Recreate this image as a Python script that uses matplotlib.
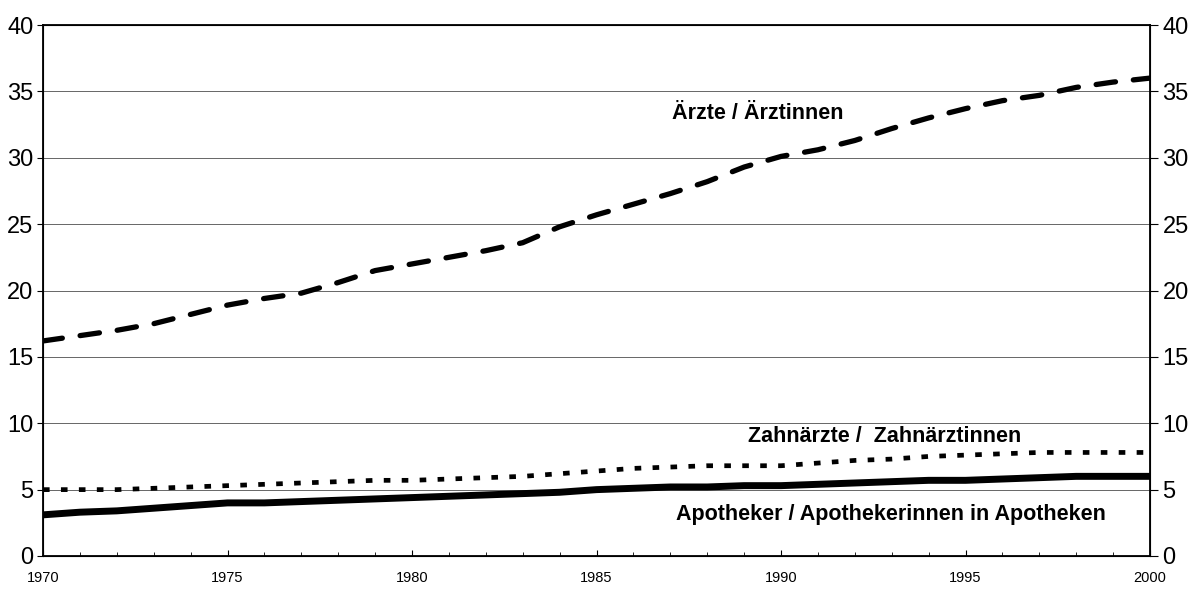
import matplotlib
matplotlib.use("Agg")
import matplotlib.pyplot as plt
from matplotlib.ticker import MultipleLocator

years = list(range(1970, 2001))
aerzte = [16.2, 16.6, 17.0, 17.5, 18.2, 18.9, 19.4, 19.8, 20.6, 21.5, 22.0,
          22.5, 23.0, 23.6, 24.8, 25.7, 26.5, 27.3, 28.2, 29.3, 30.1,
          30.6, 31.3, 32.2, 33.0, 33.7, 34.3, 34.7, 35.3, 35.7, 36.0]
zahnaerzte = [5.0, 5.0, 5.0, 5.1, 5.2, 5.3, 5.4, 5.5, 5.6, 5.7, 5.7,
              5.8, 5.9, 6.0, 6.2, 6.4, 6.6, 6.7, 6.8, 6.8, 6.8,
              7.0, 7.2, 7.3, 7.5, 7.6, 7.7, 7.8, 7.8, 7.8, 7.8]
apotheker = [3.1, 3.3, 3.4, 3.6, 3.8, 4.0, 4.0, 4.1, 4.2, 4.3, 4.4,
             4.5, 4.6, 4.7, 4.8, 5.0, 5.1, 5.2, 5.2, 5.3, 5.3,
             5.4, 5.5, 5.6, 5.7, 5.7, 5.8, 5.9, 6.0, 6.0, 6.0]
yticks = [0, 5, 10, 15, 20, 25, 30, 35, 40]
xticks = [1970, 1975, 1980, 1985, 1990, 1995, 2000]
label_aerzte = "Ärzte / Ärztinnen"
label_zahn = "Zahnärzte /  Zahnärztinnen"
label_apo = "Apotheker / Apothekerinnen in Apotheken"

plt.rcParams['font.family'] = ['Liberation Sans', 'DejaVu Sans']

fig = plt.figure(figsize=(11.90, 5.93), dpi=100)
ax = fig.add_axes([43/1190, 1 - 556/593, (1150-43)/1190, (556-25)/593])

for v in yticks[1:-1]:
    ax.axhline(v, color='0.4', lw=0.7, zorder=1)

ax.plot(years, aerzte, color='black', lw=3.8, linestyle=(0, (3.7, 3.4)),
        dash_capstyle='round', zorder=3)
ax.plot(years, zahnaerzte, color='black', lw=3.4, linestyle=(0, (1.4, 2.4)),
        dash_capstyle='butt', zorder=3)
ax.plot(years, apotheker, color='black', lw=5.0, solid_capstyle='butt', zorder=3)

ax.set_xlim(1970, 2000)
ax.set_ylim(0, 40)
ax.set_xticks(xticks)
ax.xaxis.set_minor_locator(MultipleLocator(1))
ax.set_yticks(yticks)
ax.tick_params(axis='x', which='major', direction='in', length=4, labelsize=10.5, pad=11)
ax.tick_params(axis='x', which='minor', direction='in', length=3)
ax.tick_params(axis='y', direction='out', length=4, labelsize=17, pad=3)
for sp in ax.spines.values():
    sp.set_linewidth(1.3)

ax2 = ax.twinx()
ax2.set_ylim(0, 40)
ax2.set_yticks(yticks)
ax2.tick_params(axis='y', direction='out', length=6, labelsize=17, pad=3)

ax.text(1987.05, 33.3, label_aerzte, fontsize=15.5, fontweight='bold', ha='left', va='center')
ax.text(1989.1, 9.0, label_zahn, fontsize=15.5, fontweight='bold', ha='left', va='center')
ax.text(1987.15, 3.15, label_apo, fontsize=15.5, fontweight='bold', ha='left', va='center')

fig.savefig("out.png", dpi=100)
